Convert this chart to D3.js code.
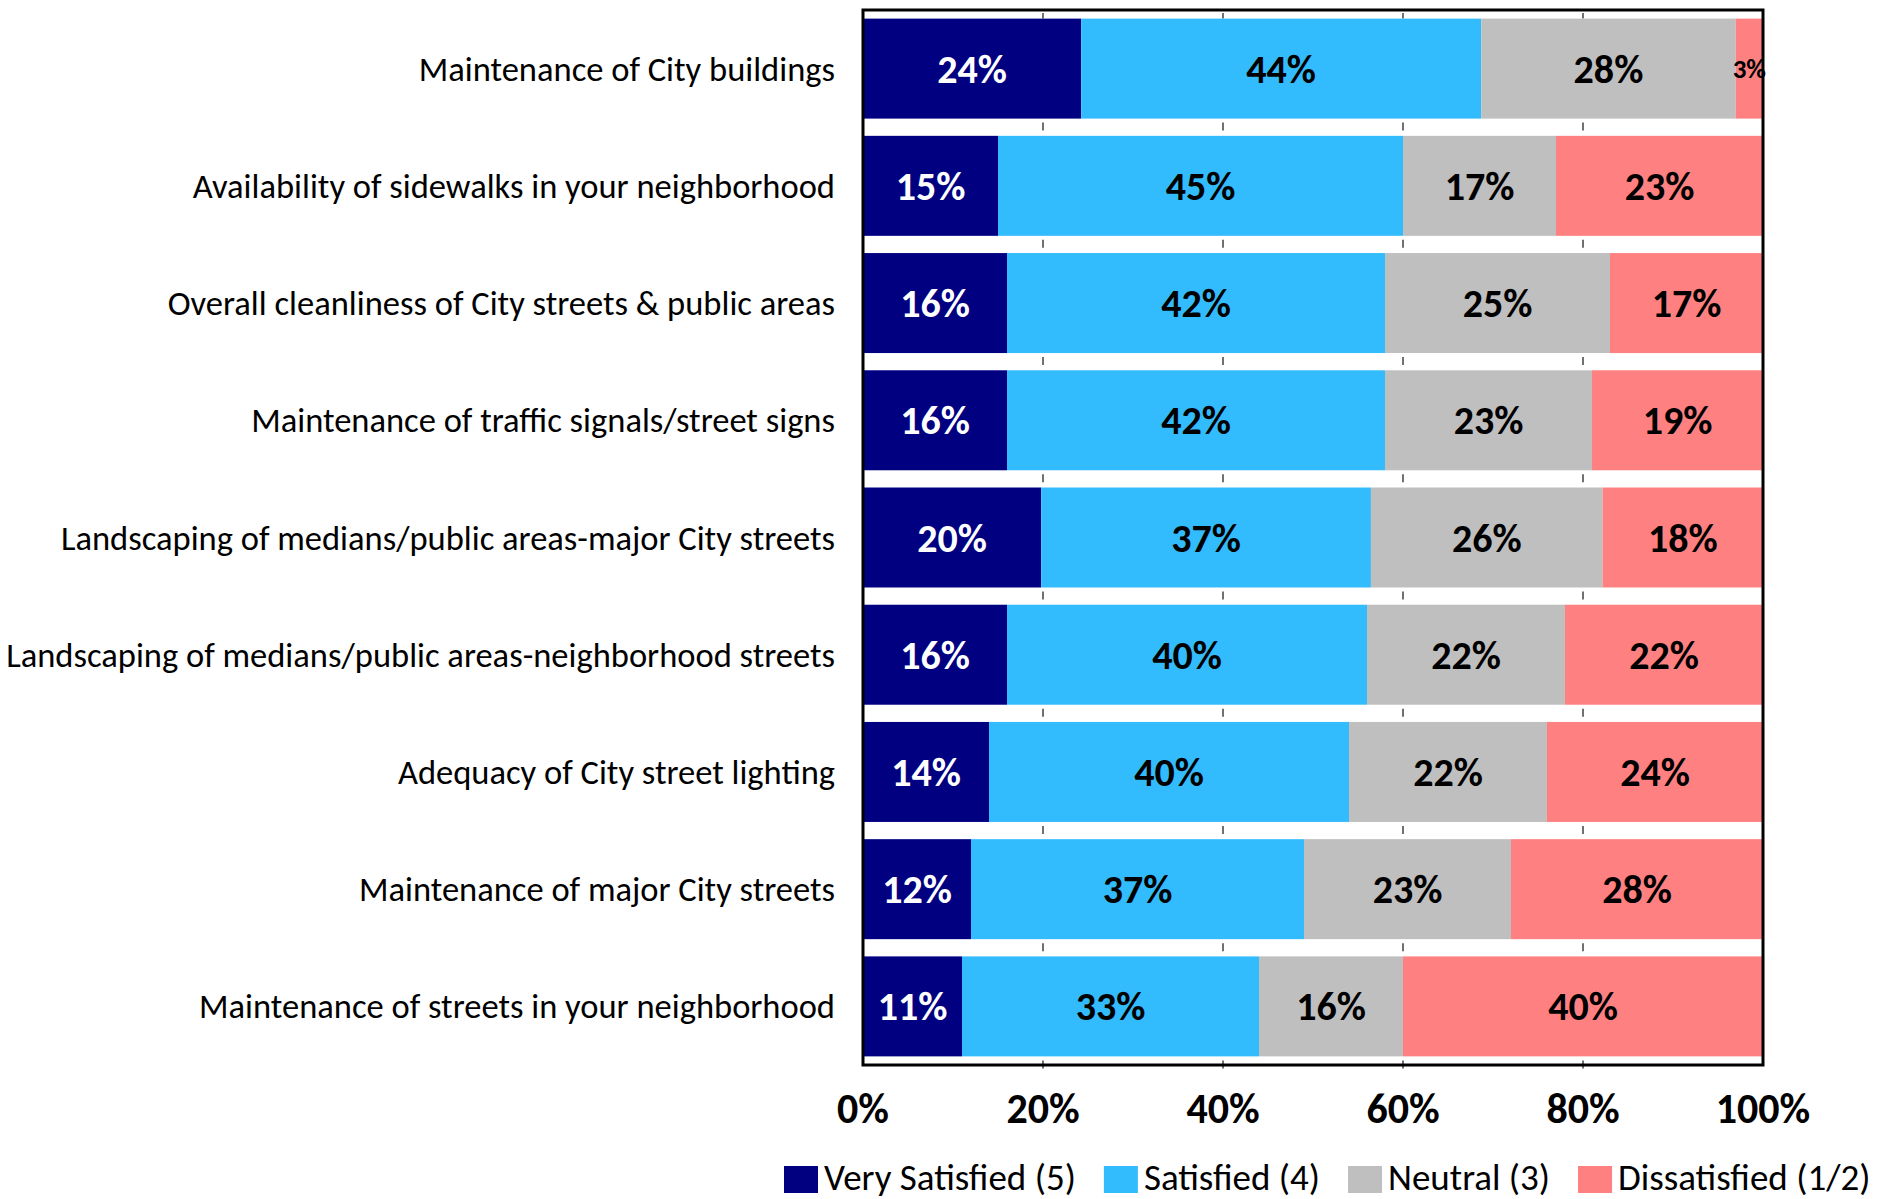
<!DOCTYPE html>
<html>
<head>
<meta charset="utf-8">
<script src="https://cdn.jsdelivr.net/npm/d3@7"></script>
<style>
  body { margin: 0; background: #fff; }
  svg text { font-family: Carlito, Calibri, Lato, "Open Sans", sans-serif; }
</style>
</head>
<body>
<svg id="chart" width="1892" height="1199"></svg>
<script>
// survey categories, top to bottom
var categories = [
  'Maintenance of City buildings',
  'Availability of sidewalks in your neighborhood',
  'Overall cleanliness of City streets & public areas',
  'Maintenance of traffic signals/street signs',
  'Landscaping of medians/public areas-major City streets',
  'Landscaping of medians/public areas-neighborhood streets',
  'Adequacy of City street lighting',
  'Maintenance of major City streets',
  'Maintenance of streets in your neighborhood'
];

var seriesNames = ['Very Satisfied (5)', 'Satisfied (4)', 'Neutral (3)', 'Dissatisfied (1/2)'];
var seriesColors = ['#000080', '#33BCFD', '#BFBFBF', '#FF8080'];
var labelColors = ['#fff', '#000', '#000', '#000'];

var verySatisfied = [24, 15, 16, 16, 20, 16, 14, 12, 11];
var satisfied     = [44, 45, 42, 42, 37, 40, 40, 37, 33];
var neutral       = [28, 17, 25, 23, 26, 22, 22, 23, 16];
var dissatisfied  = [3, 23, 17, 19, 18, 22, 24, 28, 40];

var xTicks = [0, 0.2, 0.4, 0.6, 0.8, 1];

var margin = {top: 10, left: 863, right: 129, bottom: 134};
var width = 1892 - margin.left - margin.right;
var height = 1199 - margin.top - margin.bottom;

var svg = d3.select('#chart');
var g = svg.append('g').attr('transform', 'translate(' + margin.left + ',' + margin.top + ')');

var x = d3.scaleLinear().domain([0, 1]).range([0, width]);
var y = d3.scaleBand().domain(categories).range([0, height]).paddingInner(0.147).paddingOuter(0.0735);

// build rows for the 100% stack
var rows = categories.map(function(c, i) {
  var vals = [verySatisfied[i], satisfied[i], neutral[i], dissatisfied[i]];
  var total = d3.sum(vals);
  var acc = 0;
  return vals.map(function(v, k) {
    var seg = {cat: c, k: k, value: v, x0: acc / total, x1: (acc + v) / total};
    acc += v;
    return seg;
  });
});
var segs = d3.merge(rows);

// short gridline dashes in the gaps between bars
var gapYs = [0].concat(categories.map(function(c) { return y(c) + y.bandwidth(); }));
xTicks.slice(1, -1).forEach(function(t) {
  g.selectAll(null)
    .data(gapYs)
    .enter()
    .append('line')
    .attr('x1', x(t)).attr('x2', x(t))
    .attr('y1', function(d, i) { return i === 0 ? 3 : d + 4; })
    .attr('y2', function(d, i) { return i === 0 ? y(categories[0]) : d + 12; })
    .attr('stroke', '#404040')
    .attr('stroke-width', 1.5);
});

g.selectAll('rect.seg')
  .data(segs)
  .enter()
  .append('rect')
  .attr('class', 'seg')
  .attr('x', function(d) { return x(d.x0); })
  .attr('width', function(d) { return x(d.x1) - x(d.x0); })
  .attr('y', function(d) { return y(d.cat); })
  .attr('height', y.bandwidth())
  .attr('fill', function(d) { return seriesColors[d.k]; });

g.selectAll('text.val')
  .data(segs)
  .enter()
  .append('text')
  .attr('class', 'val')
  .attr('x', function(d) { return (x(d.x0) + x(d.x1)) / 2; })
  .attr('y', function(d) { return y(d.cat) + y.bandwidth() / 2; })
  .attr('dy', '0.35em')
  .attr('text-anchor', 'middle')
  .attr('font-weight', 'bold')
  .attr('font-size', function(d) { return (x(d.x1) - x(d.x0)) < 40 ? 27 : 40; })
  .attr('fill', function(d) { return labelColors[d.k]; })
  .text(function(d) { return d.value + '%'; });

// plot frame
g.append('rect')
  .attr('x', 0).attr('y', 0)
  .attr('width', width).attr('height', height)
  .attr('fill', 'none')
  .attr('stroke', '#000')
  .attr('stroke-width', 3);

// category labels
g.selectAll('text.cat')
  .data(categories)
  .enter()
  .append('text')
  .attr('class', 'cat')
  .attr('x', -28)
  .attr('y', function(d) { return y(d) + y.bandwidth() / 2; })
  .attr('dy', '0.35em')
  .attr('text-anchor', 'end')
  .attr('font-size', 34.5)
  .attr('fill', '#000')
  .text(function(d) { return d; });

// x axis labels
g.selectAll('text.tick')
  .data(xTicks)
  .enter()
  .append('text')
  .attr('class', 'tick')
  .attr('x', function(d) { return x(d); })
  .attr('y', height + 58)
  .attr('text-anchor', 'middle')
  .attr('font-weight', 'bold')
  .attr('font-size', 42)
  .text(d3.format('.0%'));

// legend
var legend = svg.append('g').attr('transform', 'translate(784,1166)');
var lx = 0;
seriesNames.forEach(function(name, k) {
  legend.append('rect')
    .attr('x', lx).attr('y', 0)
    .attr('width', 34).attr('height', 27)
    .attr('fill', seriesColors[k]);
  var t = legend.append('text')
    .attr('x', lx + 40)
    .attr('y', 24)
    .attr('font-size', 37)
    .text(name);
  lx += 40 + t.node().getComputedTextLength() + 28;
});
</script>
</body>
</html>
